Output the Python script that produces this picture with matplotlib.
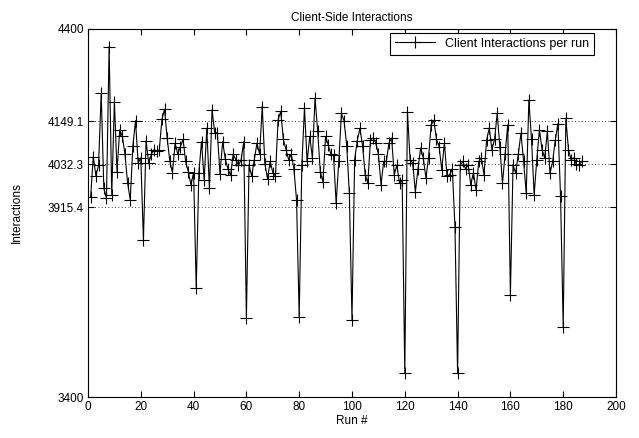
import numpy as np
import matplotlib
matplotlib.use("Agg")
import matplotlib.pyplot as plt

plt.rcParams['font.family'] = ['Liberation Sans', 'DejaVu Sans']

# interactions per run (runs 1..187)
interactions = [
    3944, 4053, 4001, 4030, 4225, 3967, 3940, 4352, 3950, 4202,
    4012, 4126, 4109, 4060, 3982, 3936, 4082, 4151, 4035, 4050,
    3827, 4096, 4035, 4060, 4072, 4068, 4070, 4155, 4182, 4103,
    4040, 4010, 4090, 4060, 4080, 4100, 4040, 4012, 3976, 4010,
    3695, 4010, 4094, 3990, 4130, 3967, 4180, 4118, 4118, 4006,
    4094, 4047, 4020, 4002, 4060, 4045, 4030, 4044, 4094, 3615,
    4030, 4000, 4045, 4090, 4060, 4189, 4034, 3993, 4040, 4010,
    4000, 4153, 4176, 4100, 4072, 4045, 4060, 4020, 3935, 3618,
    4030, 4185, 4040, 4108, 4050, 4212, 4122, 4012, 3985, 4108,
    4085, 4060, 4057, 3926, 4040, 4171, 4150, 4083, 3954, 3609,
    4045, 4097, 4130, 4083, 4004, 3981, 4099, 4104, 4090, 4060,
    3977, 4040, 4040, 4090, 4104, 4004, 4030, 3981, 3990, 3464,
    4175, 4045, 4036, 3958, 4020, 4077, 4050, 3995, 4050, 4140,
    4152, 4100, 4080, 4018, 4090, 4000, 4004, 4020, 3863, 3464,
    4030, 4040, 4020, 4031, 3977, 4010, 3962, 4040, 4050, 4004,
    4099, 4131, 4072, 4100, 4171, 4080, 3981, 4060, 4140, 3677,
    4030, 4009, 4060, 4117, 4040, 3954, 4207, 4100, 3950, 4045,
    4126, 4072, 4050, 4122, 4008, 4040, 4098, 4143, 3945, 3591,
    4157, 4072, 4045, 4050, 4032, 4030, 4040,
]
runs = np.arange(1, len(interactions) + 1)

y_ticks = [3400, 3915.4, 4032.3, 4149.1, 4400]
y_tick_labels = ["3400", "3915.4", "4032.3", "4149.1", "4400"]
x_ticks = [0, 20, 40, 60, 80, 100, 120, 140, 160, 180, 200]

fig = plt.figure(figsize=(6.39, 4.38), dpi=100)
ax = fig.add_axes([0.1377, 0.0936, 0.8263, 0.8402])

ax.plot(runs, interactions, color='k', linewidth=0.8, marker='+',
        markersize=8, markeredgewidth=0.8, label='Client Interactions per run')

ax.set_xlim(0, 200)
ax.set_ylim(3400, 4400)
ax.set_xticks(x_ticks)
ax.set_yticks(y_ticks)
ax.set_yticklabels(y_tick_labels)
ax.yaxis.grid(True, linestyle=(0, (1, 3)), color='k', linewidth=0.6)

ax.tick_params(direction='in', top=True, right=True, length=4, width=0.8,
               labelsize=8.5, pad=3)
for s in ax.spines.values():
    s.set_linewidth(0.8)

ax.set_xlabel('Run #', fontsize=8.5, labelpad=1)
ax.set_ylabel('Interactions', fontsize=8.5, labelpad=18)
ax.set_title('Client-Side Interactions', fontsize=8.5, pad=6)

leg = ax.legend(loc='upper right', fontsize=9, fancybox=False,
                edgecolor='k', framealpha=1, borderaxespad=0.3,
                handlelength=3.2, bbox_to_anchor=(0.965, 1.0))
leg.get_frame().set_linewidth(0.8)

fig.savefig('out.png', dpi=100)
